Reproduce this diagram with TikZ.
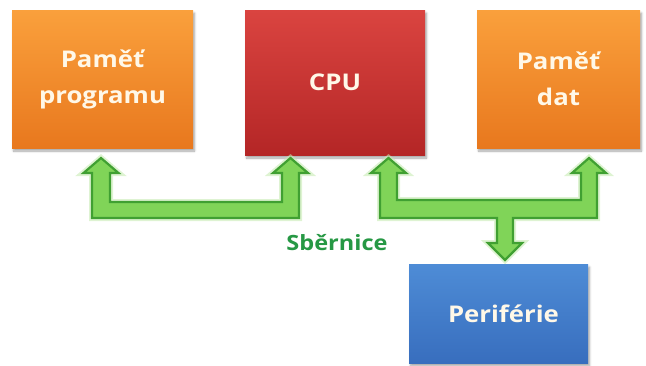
\documentclass[tikz,border=0pt]{standalone}
\usepackage{fontspec}
\setmainfont{Open Sans}
\usetikzlibrary{shadows.blur}
\definecolor{orT}{RGB}{250,160,60}
\definecolor{orB}{RGB}{232,120,30}
\definecolor{rdT}{RGB}{218,68,64}
\definecolor{rdB}{RGB}{180,38,38}
\definecolor{blT}{RGB}{78,140,214}
\definecolor{blB}{RGB}{56,110,190}
\definecolor{busfill}{RGB}{128,212,88}
\definecolor{busline}{RGB}{64,160,50}
\definecolor{busglow}{RGB}{200,235,180}
\definecolor{bustext}{RGB}{38,152,68}
\definecolor{boxtext}{RGB}{255,248,232}
\newcommand\widetxt[1]{\scalebox{1.12}[1]{#1}}
\newcommand\widebus[1]{\scalebox{1.12}[1]{#1}}
\tikzset{
  box/.style={rectangle, inner sep=0pt, text=boxtext, align=center,
    font=\fontsize{23}{36}\selectfont\bfseries,
    blur shadow={shadow blur steps=6, shadow xshift=1.5pt, shadow yshift=-3pt, shadow opacity=35}},
  orbox/.style={box, top color=orT, bottom color=orB},
  rdbox/.style={box, top color=rdT, bottom color=rdB},
  blbox/.style={box, top color=blT, bottom color=blB},
  bus/.style={fill=busfill, draw=busline, line width=2.2pt, line join=miter},
  busglowst/.style={draw=busglow, line width=6pt, line join=miter, opacity=0.6},
}
\begin{document}
\begin{tikzpicture}[x=1pt, y=-1pt]
\useasboundingbox (0,0) rectangle (646,365);
\node[orbox, minimum width=181pt, minimum height=138pt] (pp) at (102.5,79) {\widetxt{Paměť}\\\widetxt{programu}};
\node[rdbox, minimum width=180pt, minimum height=145pt] (cpu) at (335,82.5) {\widetxt{CPU}};
\node[orbox, minimum width=163pt, minimum height=138pt] (pd) at (558.5,79) {\widetxt{Paměť}\\\widetxt{dat}};
\node[blbox, minimum width=179pt, minimum height=99pt] (per) at (498.5,313.5) {\hspace*{10pt}\widetxt{Periférie}};
% buses
\def\busA{(101,158) -- (118.5,173) -- (110,173) -- (110,202) -- (282,202) -- (282,173) -- (273,173) -- (290.5,158) -- (308,173) -- (299,173) -- (299,218) -- (92,218) -- (92,173) -- (83.5,173) -- cycle}
\def\busB{(388.5,158) -- (406,173) -- (397,173) -- (397,200) -- (581,200) -- (581,173) -- (572,173) -- (589,158) -- (606,173) -- (597,173) -- (597,218) -- (513,218) -- (513,243) -- (522,243) -- (505,260) -- (488,243) -- (497,243) -- (497,218) -- (380,218) -- (380,173) -- (371,173) -- cycle}
\draw[busglowst] \busA;
\draw[busglowst] \busB;
\draw[bus] \busA;
\draw[bus] \busB;
\node[text=bustext, font=\fontsize{21}{24}\selectfont\bfseries] (sb) at (337,243) {\widebus{Sběrnice}};
\end{tikzpicture}
\end{document}
